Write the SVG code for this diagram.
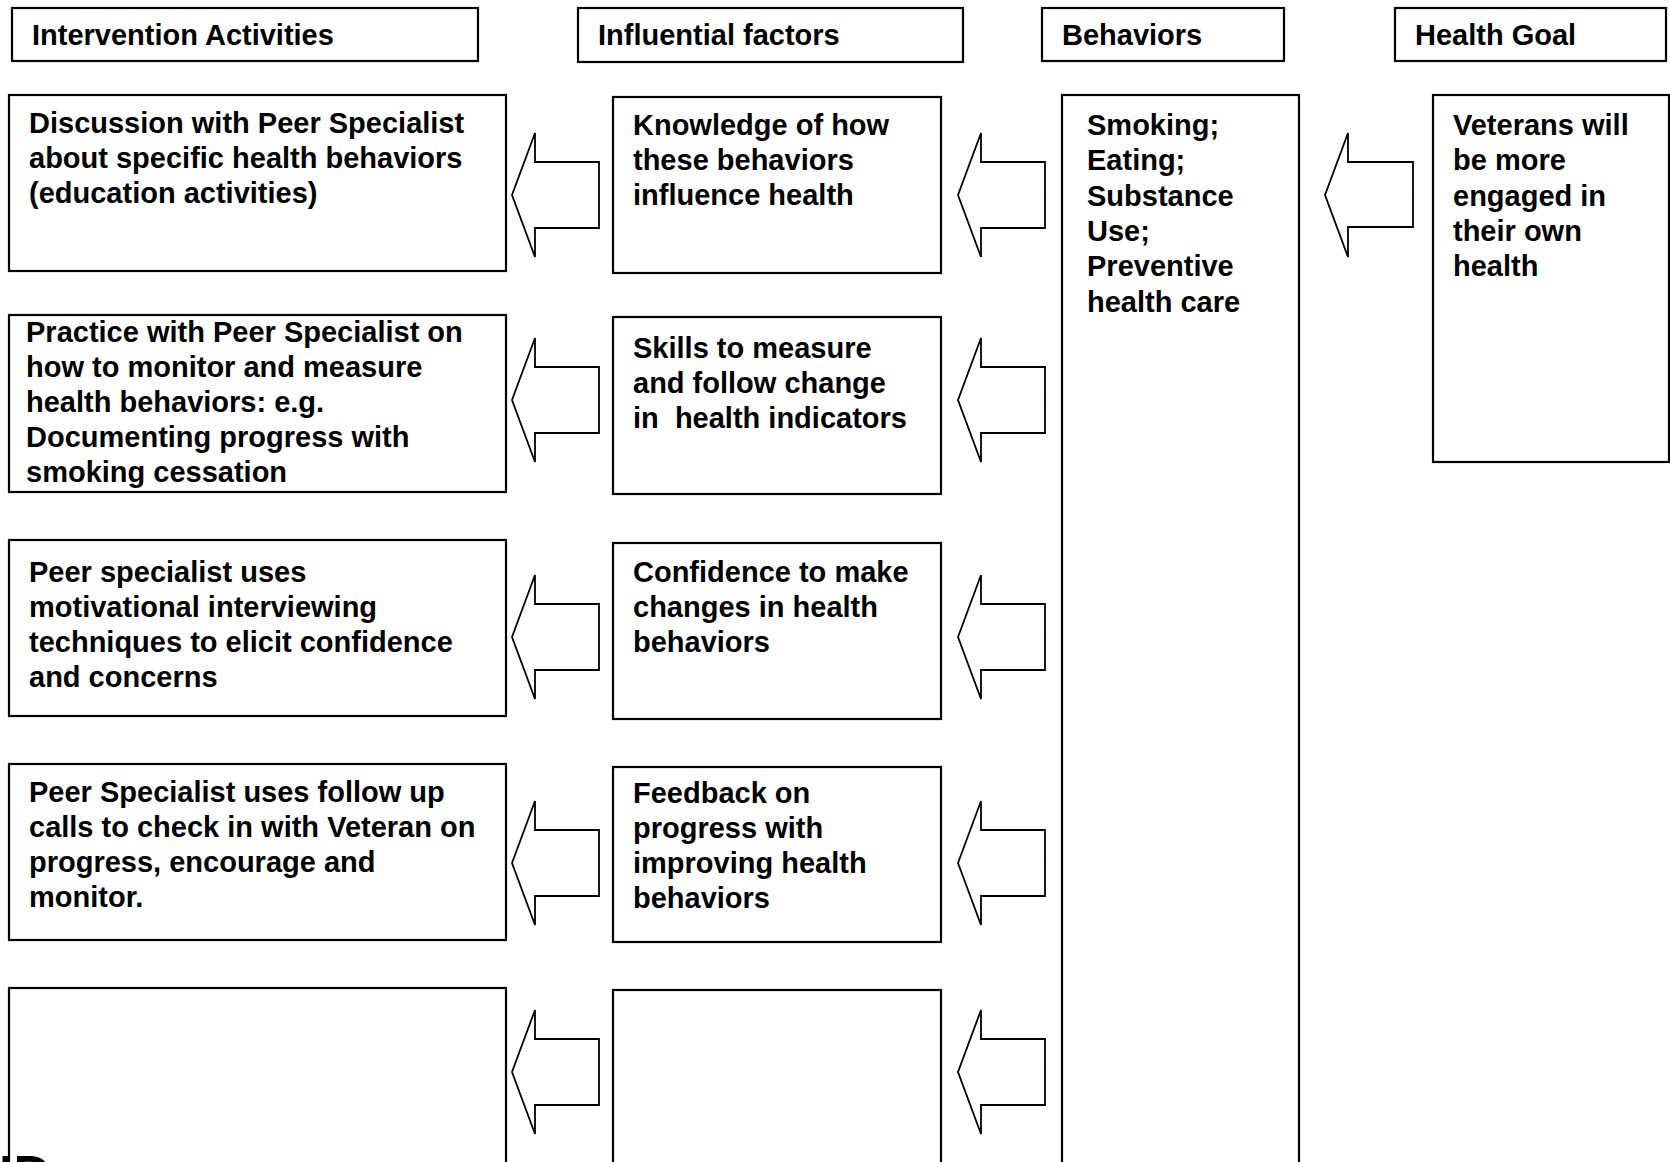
<svg xmlns="http://www.w3.org/2000/svg" width="1670" height="1162" viewBox="0 0 1670 1162">
<style>
.box{fill:#fff;stroke:#000;stroke-width:2.2}
.arr{fill:#fff;stroke:#000;stroke-width:1.8;stroke-linejoin:miter}
text{font-family:"Liberation Sans",Arial,sans-serif;font-weight:bold;font-size:29px;fill:#000}
.id{font-size:52px}
</style>
<defs>
<path id="arrow" class="arr" d="M0,0 L23,-62 L23,-33 L87,-33 L87,33 L23,33 L23,62 Z"/>
</defs>
<rect width="1670" height="1162" fill="#fff"/>
<g id="hdr-intervention"><rect class="box" x="12" y="8" width="466" height="53"/><text x="32" y="45">Intervention Activities</text></g>
<g id="hdr-influential"><rect class="box" x="578" y="8" width="385" height="54"/><text x="598" y="45">Influential factors</text></g>
<g id="hdr-behaviors"><rect class="box" x="1042" y="8" width="242" height="53"/><text x="1062" y="45">Behaviors</text></g>
<g id="hdr-goal"><rect class="box" x="1395" y="8" width="271" height="53"/><text x="1415" y="45">Health Goal</text></g>

<g id="act1"><rect class="box" x="9" y="95" width="497" height="176"/>
<text x="29" y="133">Discussion with Peer Specialist</text>
<text x="29" y="168">about specific health behaviors</text>
<text x="29" y="203">(education activities)</text></g>
<g id="act2"><rect class="box" x="9" y="315" width="497" height="177"/>
<text x="26" y="342">Practice with Peer Specialist on</text>
<text x="26" y="377">how to monitor and measure</text>
<text x="26" y="412">health behaviors: e.g.</text>
<text x="26" y="447">Documenting progress with</text>
<text x="26" y="482">smoking cessation</text></g>
<g id="act3"><rect class="box" x="9" y="540" width="497" height="176"/>
<text x="29" y="582">Peer specialist uses</text>
<text x="29" y="617">motivational interviewing</text>
<text x="29" y="652">techniques to elicit confidence</text>
<text x="29" y="687">and concerns</text></g>
<g id="act4"><rect class="box" x="9" y="764" width="497" height="176"/>
<text x="29" y="802">Peer Specialist uses follow up</text>
<text x="29" y="837">calls to check in with Veteran on</text>
<text x="29" y="872">progress, encourage and</text>
<text x="29" y="907">monitor.</text></g>
<g id="act5"><rect class="box" x="9" y="988" width="497" height="190"/></g>

<g id="fac1"><rect class="box" x="613" y="97" width="328" height="176"/>
<text x="633" y="135">Knowledge of how</text>
<text x="633" y="170">these behaviors</text>
<text x="633" y="205">influence health</text></g>
<g id="fac2"><rect class="box" x="613" y="317" width="328" height="177"/>
<text x="633" y="358">Skills to measure</text>
<text x="633" y="393">and follow change</text>
<text x="633" y="428" xml:space="preserve">in  health indicators</text></g>
<g id="fac3"><rect class="box" x="613" y="543" width="328" height="176"/>
<text x="633" y="582">Confidence to make</text>
<text x="633" y="617">changes in health</text>
<text x="633" y="652">behaviors</text></g>
<g id="fac4"><rect class="box" x="613" y="767" width="328" height="175"/>
<text x="633" y="803">Feedback on</text>
<text x="633" y="838">progress with</text>
<text x="633" y="873">improving health</text>
<text x="633" y="908">behaviors</text></g>
<g id="fac5"><rect class="box" x="613" y="990" width="328" height="190"/></g>

<g id="behaviors"><rect class="box" x="1062" y="95" width="237" height="1085"/>
<text x="1087" y="135">Smoking;</text>
<text x="1087" y="170">Eating;</text>
<text x="1087" y="206">Substance</text>
<text x="1087" y="241">Use;</text>
<text x="1087" y="276">Preventive</text>
<text x="1087" y="312">health care</text></g>

<g id="goal"><rect class="box" x="1433" y="95" width="236" height="367"/>
<text x="1453" y="135">Veterans will</text>
<text x="1453" y="170">be more</text>
<text x="1453" y="206">engaged in</text>
<text x="1453" y="241">their own</text>
<text x="1453" y="276">health</text></g>

<g id="connectors">
<use href="#arrow" x="512" y="195"/>
<use href="#arrow" x="512" y="400"/>
<use href="#arrow" x="512" y="637"/>
<use href="#arrow" x="512" y="863"/>
<use href="#arrow" x="512" y="1072"/>
<use href="#arrow" x="958" y="195"/>
<use href="#arrow" x="958" y="400"/>
<use href="#arrow" x="958" y="637"/>
<use href="#arrow" x="958" y="863"/>
<use href="#arrow" x="958" y="1072"/>
<path class="arr" d="M1325,195 L1348,133 L1348,162 L1413,162 L1413,227 L1348,227 L1348,257 Z"/>
</g>

<text class="id" x="-1" y="1192">ID</text>
</svg>
